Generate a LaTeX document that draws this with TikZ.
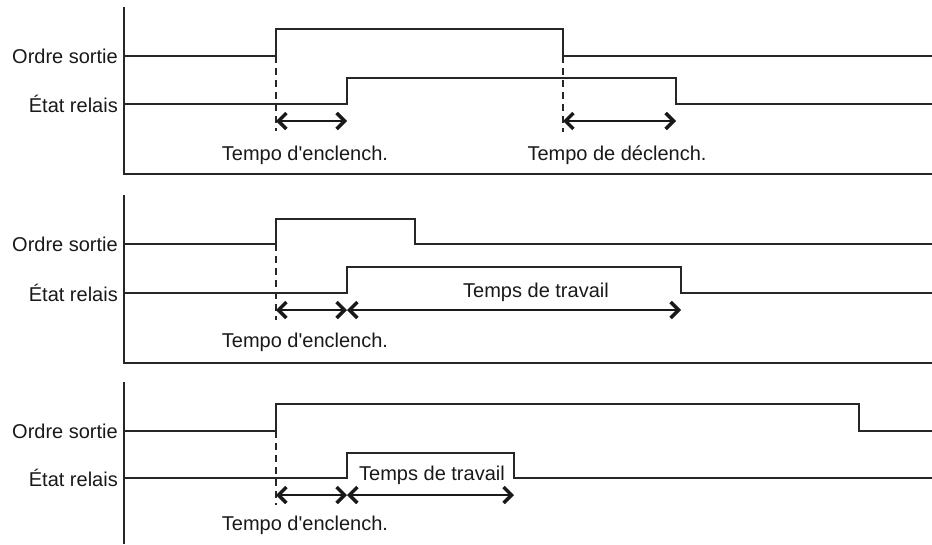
\documentclass[tikz,border=0pt]{standalone}
\usepackage{fontspec}
\setmainfont{Liberation Sans}[Ligatures=TeXOff]
\usetikzlibrary{arrows.meta}
\tikzset{
  sig/.style={line width=2.3pt, color=black!85, line join=miter},
  axisline/.style={line width=2.3pt, color=black!85},
  guide/.style={line width=2pt, color=black!85, dash pattern=on 7pt off 5pt},
  tip/.tip={Straight Barb[length=8pt,width=16pt,line width=3.4pt]},
  dim/.style={line width=2.3pt, color=black!90, {tip}-{tip}},
  lbl/.style={font=\fontsize{20}{24}\selectfont, text=black!90, inner sep=0pt},
  sidelbl/.style={lbl, anchor=east}
}
\begin{document}
\begin{tikzpicture}[x=1pt,y=-1pt]
\useasboundingbox (0,0) rectangle (932,544);

% ---------- Panel 1 ----------
\coordinate (a1t) at (124,7);
\coordinate (a1o) at (124,174);
\coordinate (a1r) at (932,174);
\draw[axisline] (a1t) -- (a1o) -- (a1r);
\node[sidelbl] (o1) at (118,56) {Ordre sortie};
\node[sidelbl] (e1) at (118,104) {État relais};
\draw[sig] (124,56) -- (276,56) -- (276,29) -- (563,29) -- (563,56) -- (932,56);
\draw[sig] (124,104) -- (347,104) -- (347,78) -- (676,78) -- (676,104) -- (932,104);
\coordinate (d1a) at (276,56); \coordinate (d1b) at (276,131);
\coordinate (d1c) at (563,56); \coordinate (d1d) at (563,132);
\draw[guide] (d1a) -- (d1b);
\draw[guide] (d1c) -- (d1d);
\coordinate (p1a) at (276,121); \coordinate (p1b) at (347,121);
\coordinate (p1c) at (563,121); \coordinate (p1d) at (676,121);
\draw[dim] (p1a) -- (p1b);
\draw[dim] (p1c) -- (p1d);
\node[lbl] (t1a) at (305,155) {Tempo d'enclench.};
\node[lbl] (t1b) at (617,155) {Tempo de déclench.};

% ---------- Panel 2 ----------
\coordinate (a2t) at (124,195);
\coordinate (a2o) at (124,363);
\coordinate (a2r) at (932,363);
\draw[axisline] (a2t) -- (a2o) -- (a2r);
\node[sidelbl] (o2) at (118,244) {Ordre sortie};
\node[sidelbl] (e2) at (118,293) {État relais};
\draw[sig] (124,244) -- (276,244) -- (276,219) -- (415,219) -- (415,244) -- (932,244);
\draw[sig] (124,293) -- (347,293) -- (347,267) -- (681,267) -- (681,293) -- (932,293);
\coordinate (d2a) at (276,244); \coordinate (d2b) at (276,320);
\draw[guide] (d2a) -- (d2b);
\coordinate (p2a) at (276,310); \coordinate (p2b) at (347,310); \coordinate (p2c) at (681,310);
\draw[dim] (p2a) -- (p2b);
\draw[dim] (p2b) -- (p2c);
\node[lbl] (t2a) at (305,342) {Tempo d'enclench.};
\node[lbl] (t2b) at (536,292) {Temps de travail};

% ---------- Panel 3 ----------
\coordinate (a3t) at (124,382);
\coordinate (a3o) at (124,544);
\draw[axisline] (a3t) -- (a3o);
\node[sidelbl] (o3) at (118,431) {Ordre sortie};
\node[sidelbl] (e3) at (118,478) {État relais};
\draw[sig] (124,431) -- (276,431) -- (276,404) -- (859,404) -- (859,431) -- (932,431);
\draw[sig] (124,478) -- (347,478) -- (347,453) -- (514,453) -- (514,478) -- (932,478);
\coordinate (d3a) at (276,431); \coordinate (d3b) at (276,505);
\draw[guide] (d3a) -- (d3b);
\coordinate (p3a) at (276,495); \coordinate (p3b) at (347,495); \coordinate (p3c) at (514,495);
\draw[dim] (p3a) -- (p3b);
\draw[dim] (p3b) -- (p3c);
\node[lbl] (t3a) at (305,525) {Tempo d'enclench.};
\node[lbl] (t3b) at (432,475) {Temps de travail};
\end{tikzpicture}
\end{document}
